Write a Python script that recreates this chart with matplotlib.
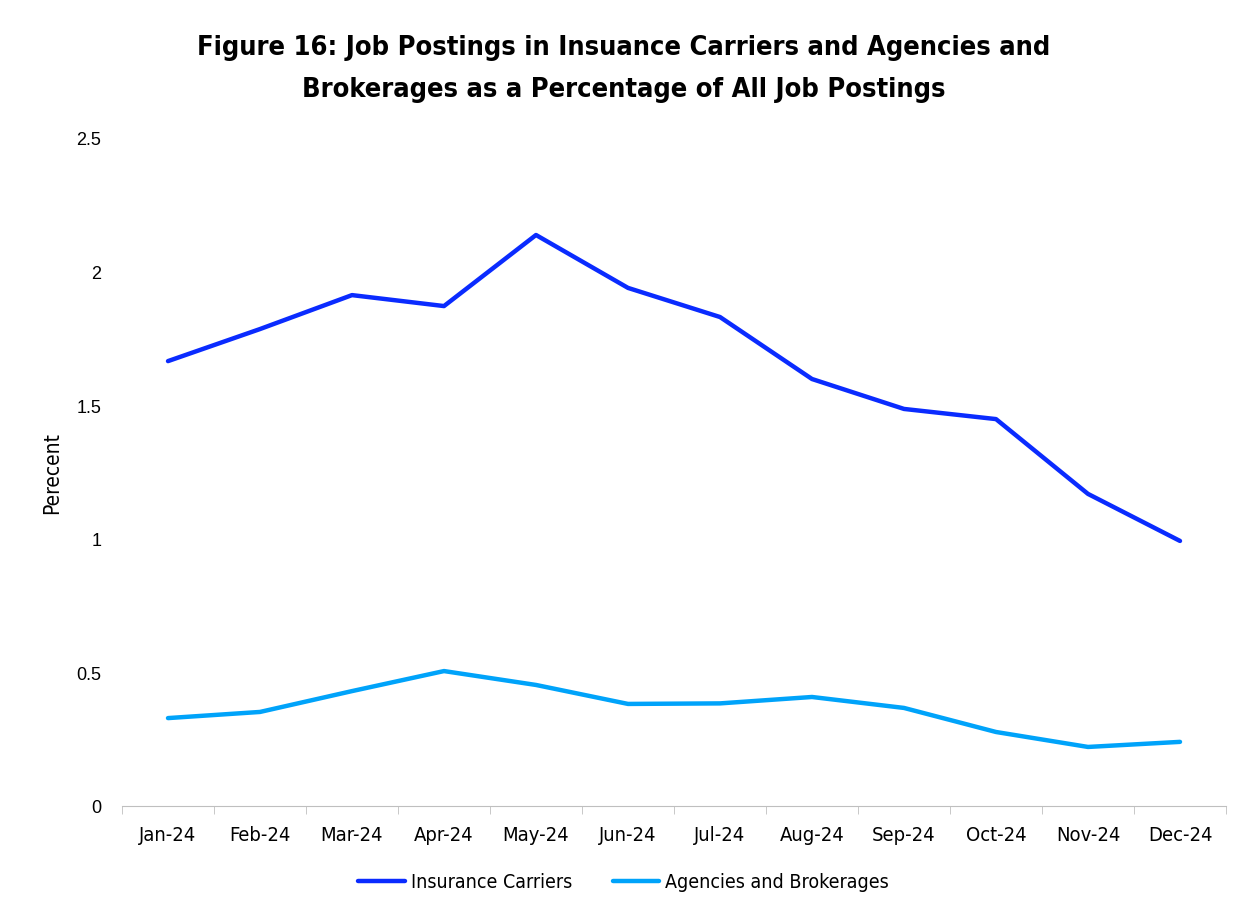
import numpy as np
import matplotlib.pyplot as plt

months = ["Jan-24", "Feb-24", "Mar-24", "Apr-24", "May-24", "Jun-24",
          "Jul-24", "Aug-24", "Sep-24", "Oct-24", "Nov-24", "Dec-24"]
insurance_carriers = [1.665, 1.785, 1.912, 1.871, 2.137, 1.939,
                      1.830, 1.598, 1.486, 1.448, 1.168, 0.992]
agencies_brokerages = [0.329, 0.352, 0.430, 0.505, 0.453, 0.382,
                       0.384, 0.408, 0.367, 0.277, 0.221, 0.240]

narrow = dict(family="DejaVu Sans", stretch="condensed")

fig = plt.figure(figsize=(12.47, 9.12), dpi=100)
ax = fig.add_axes([122/1247, 1-807/912, (1226-122)/1247, (807-139)/912])

x = np.arange(len(months))
l1, = ax.plot(x, insurance_carriers, color="#0A2BFF", lw=3.2,
              solid_capstyle="round", label="Insurance Carriers")
l2, = ax.plot(x, agencies_brokerages, color="#00A3FA", lw=3.2,
              solid_capstyle="round", label="Agencies and Brokerages")

ax.set_xlim(-0.5, len(months)-0.5)
ax.set_ylim(0, 2.5)
ax.set_yticks([0, 0.5, 1, 1.5, 2, 2.5])
ax.set_yticklabels(["0", "0.5", "1", "1.5", "2", "2.5"],
                   fontsize=13, family="Liberation Sans")
ax.set_xticks(x)
ax.set_xticklabels(months, fontsize=14.5, **narrow)
ax.set_xticks(np.arange(-0.5, len(months)), minor=True)
ax.tick_params(axis="x", which="major", length=0, pad=14)
ax.tick_params(axis="x", which="minor", length=6, color="#BFBFBF")
ax.tick_params(axis="y", length=0, pad=15)

for s in ["top", "right", "left"]:
    ax.spines[s].set_visible(False)
ax.spines["bottom"].set_color("#BFBFBF")

ax.set_ylabel("Perecent", fontsize=15, **narrow)
ax.yaxis.set_label_coords(-0.054, 0.5)

fig.text(0.5, 0.962, "Figure 16: Job Postings in Insuance Carriers and Agencies and\n"
         "Brokerages as a Percentage of All Job Postings",
         ha="center", va="top", fontsize=19.5, fontweight="bold",
         linespacing=1.8, **narrow)

fig.legend(handles=[l1, l2], loc="center", bbox_to_anchor=(0.5, 1-883/912),
           ncol=2, frameon=False, handlelength=2.4, handletextpad=0.3,
           columnspacing=2.1, prop=dict(size=14, **narrow))

fig.savefig("out.png", dpi=100)
